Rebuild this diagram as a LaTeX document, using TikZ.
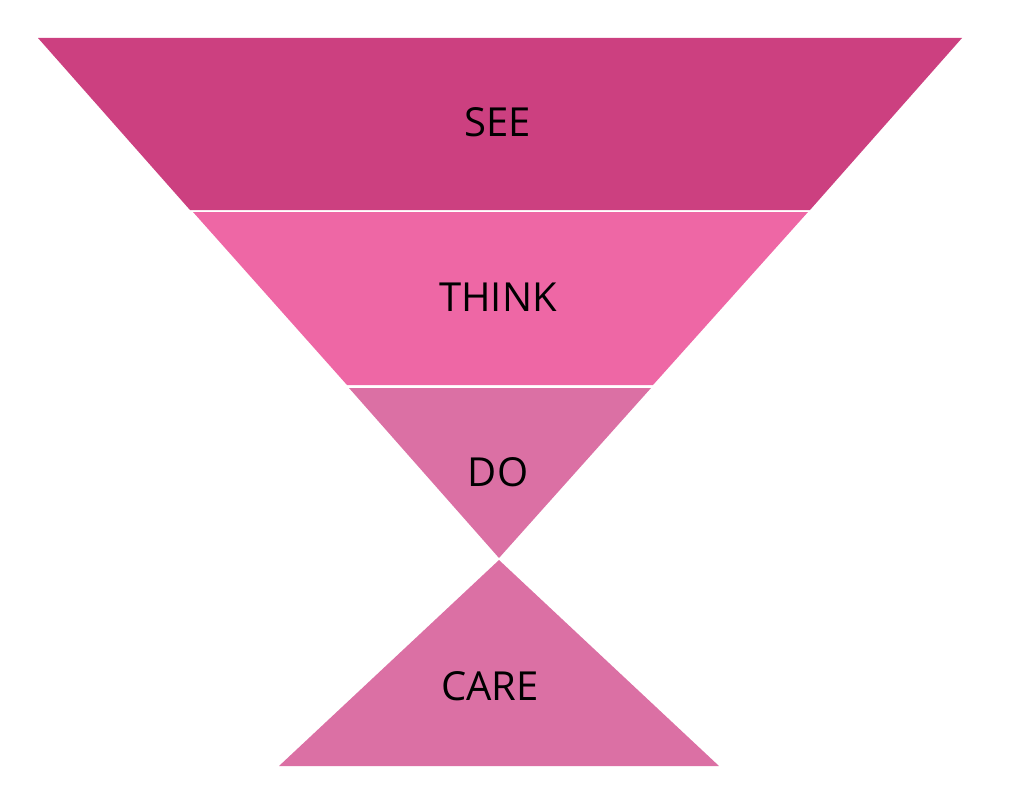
\documentclass[tikz,border=0pt]{standalone}
\usepackage{fontspec}
\setmainfont{Open Sans}
\definecolor{seecol}{HTML}{CC4080}
\definecolor{thinkcol}{HTML}{EE67A5}
\definecolor{docol}{HTML}{DB70A4}
\tikzset{
	stage/.style={font=\fontsize{40}{48}\selectfont, text=black}
}
\begin{document}
\begin{tikzpicture}[x=1pt,y=-1pt]
	\useasboundingbox (0,0) rectangle (1024,808);
	\fill [seecol] (38,38) -- (962,38) -- (810,210) -- (190,210) -- cycle;
	\fill [thinkcol] (193,212) -- (808,212) -- (653,385) -- (347,385) -- cycle;
	\fill [docol] (349,388) -- (651,388) -- (499,558) -- cycle;
	\fill [docol] (499,560) -- (719,766) -- (279,766) -- cycle;

	\node[stage] (see) at (498,122) {SEE};
	\node[stage] (think) at (498,297) {THINK};
	\node[stage] (do) at (498,472) {DO};
	\node[stage] (care) at (490,686) {CARE};
\end{tikzpicture}
\end{document}
